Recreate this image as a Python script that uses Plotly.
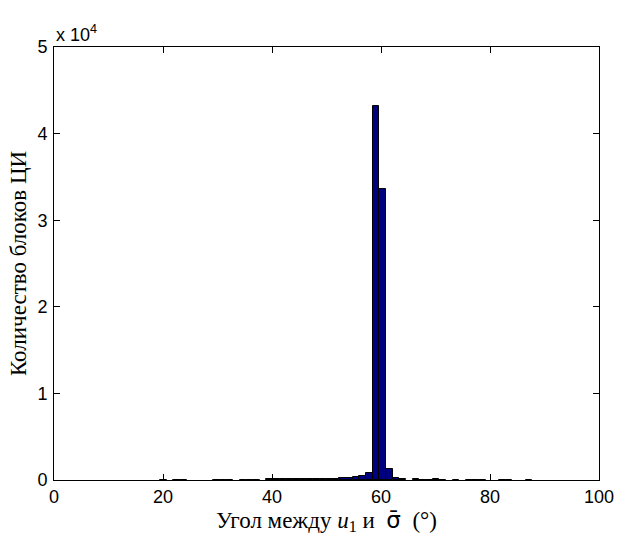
import plotly.graph_objects as go

# Histogram of angles between u1 and mean sigma (bin centers in degrees)
angle_centers = [20.05, 22.49, 23.71, 29.81, 31.03, 32.25, 34.69, 35.91, 37.13,
                 39.57, 40.79, 42.01, 43.23, 44.45, 45.67, 46.89, 48.11, 49.33,
                 50.55, 51.77, 52.99, 54.21, 55.43, 56.65, 57.87, 59.09, 60.31,
                 61.53, 62.75, 63.97, 66.41, 67.63, 68.85, 70.07, 71.29, 73.73,
                 76.17, 77.39, 78.61, 82.27, 83.49, 87.15]
block_counts = [40, 50, 50, 40, 50, 40, 50, 40, 50,
                60, 70, 80, 90, 90, 100, 110, 110, 120,
                130, 150, 180, 220, 350, 500, 780, 43200, 33600,
                1250, 270, 110, 60, 50, 50, 60, 50, 50,
                50, 40, 50, 40, 40, 40]

x_ticks = [0, 20, 40, 60, 80, 100]
y_ticks = [0, 10000, 20000, 30000, 40000, 50000]
y_tick_text = ["0", "1", "2", "3", "4", "5"]

BIN_WIDTH = 1.22
SANS = "Liberation Sans, Arial, sans-serif"
SERIF = "Liberation Serif, Times New Roman, serif"

fig = go.Figure(
    go.Bar(
        x=angle_centers,
        y=block_counts,
        width=BIN_WIDTH,
        marker=dict(color="#000080", line=dict(color="black", width=1)),
    )
)

axis_common = dict(
    showline=True, linecolor="black", linewidth=1, mirror="ticks",
    ticks="inside", ticklen=6, tickcolor="black", tickwidth=1,
    showgrid=False, zeroline=False,
    tickfont=dict(family=SANS, size=18, color="black"),
)

x_title = ("Угол между <i>u</i><sub>1</sub> и  "
           "<span style=\"font-family:DejaVu Sans\">σ\u0304</span>  (°)")

fig.update_layout(
    width=626, height=539,
    margin=dict(l=54, r=17, t=47, b=59),
    paper_bgcolor="white", plot_bgcolor="white",
    showlegend=False, bargap=0,
    xaxis=dict(range=[0, 100], tickvals=x_ticks,
               title=dict(text=x_title,
                          font=dict(family=SERIF, size=23, color="black"),
                          standoff=2),
               **axis_common),
    yaxis=dict(range=[0, 50000], tickvals=y_ticks, ticktext=y_tick_text,
               ticklabelstandoff=2,
               title=dict(text="Количество блоков ЦИ",
                          font=dict(family=SERIF, size=23, color="black"),
                          standoff=4),
               **axis_common),
    annotations=[dict(
        text="x 10<sup>4</sup>", xref="paper", yref="paper", x=0, y=1,
        xanchor="left", yanchor="bottom", showarrow=False, yshift=0,
        font=dict(family=SANS, size=18, color="black"),
    )],
)

fig.write_html("out.html")
